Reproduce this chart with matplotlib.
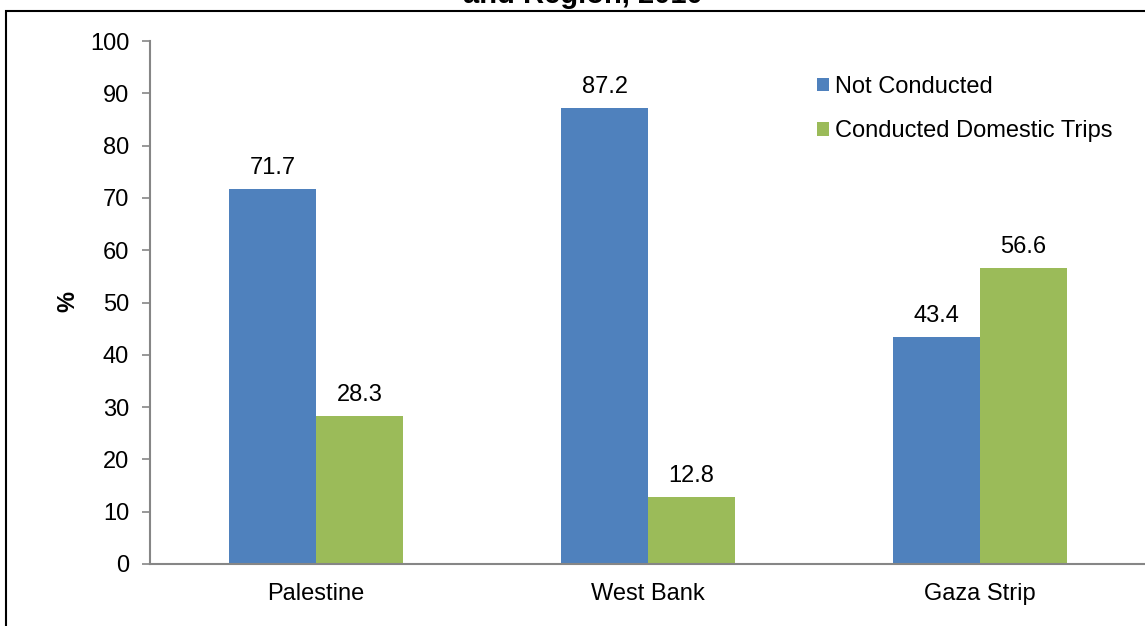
import matplotlib.pyplot as plt
import numpy as np
from matplotlib.patches import Rectangle

plt.rcParams['font.family'] = ['Liberation Sans', 'DejaVu Sans']

regions = ['Palestine', 'West Bank', 'Gaza Strip']
not_conducted = [71.7, 87.2, 43.4]
conducted = [28.3, 12.8, 56.6]
series_names = ['Not Conducted', 'Conducted Domestic Trips']
colors = ['#4F81BD', '#9BBB59']

fs = 17

fig = plt.figure(figsize=(11.45, 6.26), dpi=100)
ax = fig.add_axes([150 / 1145, 1 - 564 / 626, 996 / 1145, (564 - 41) / 626])

x = np.arange(len(regions))
w = 0.262
b1 = ax.bar(x - w / 2, not_conducted, w, color=colors[0], label=series_names[0])
b2 = ax.bar(x + w / 2, conducted, w, color=colors[1], label=series_names[1])

for bars, vals in [(b1, not_conducted), (b2, conducted)]:
    for rect, v in zip(bars, vals):
        ax.annotate(f'{v:.1f}', (rect.get_x() + rect.get_width() / 2, v),
                    xytext=(0, 15), textcoords='offset pixels',
                    ha='center', va='baseline', fontsize=fs)

ax.set_xlim(-0.5, len(regions) - 0.5)
ax.set_ylim(0, 100)
ax.set_yticks(range(0, 101, 10))
ax.set_xticks(x)
ax.set_xticklabels(regions)
ax.tick_params(axis='y', labelsize=fs, color='#868686', length=6, width=1.2, pad=9)
ax.tick_params(axis='x', labelsize=fs, length=0, pad=14)
for s in ['top', 'right']:
    ax.spines[s].set_visible(False)
for s in ['left', 'bottom']:
    ax.spines[s].set_color('#868686')
    ax.spines[s].set_linewidth(1.5)

fig.text(68 / 1145, 1 - 302 / 626, '%', rotation=90, fontsize=fs,
         fontweight='bold', ha='center', va='center')

ax.legend(loc='upper left', bbox_to_anchor=(817 / 1145, 1 - 76 / 626),
          bbox_transform=fig.transFigure, frameon=False, fontsize=fs,
          handlelength=0.5, handleheight=0.5, handletextpad=0.25,
          labelspacing=0.95, borderaxespad=0, borderpad=0)

# chart title, mostly cut off at the top of the picture
fig.text(583 / 1145, 1 - 3 / 626, 'and Region, 2010', fontsize=21,
         fontweight='bold', ha='center', va='baseline')

# outer chart border
fig.patches.append(Rectangle((6 / 1145, -0.1), 1.2, 1 - 11 / 626 + 0.1,
                             transform=fig.transFigure, fill=False,
                             edgecolor='black', linewidth=1.5))

fig.savefig('out.png', dpi=100)
